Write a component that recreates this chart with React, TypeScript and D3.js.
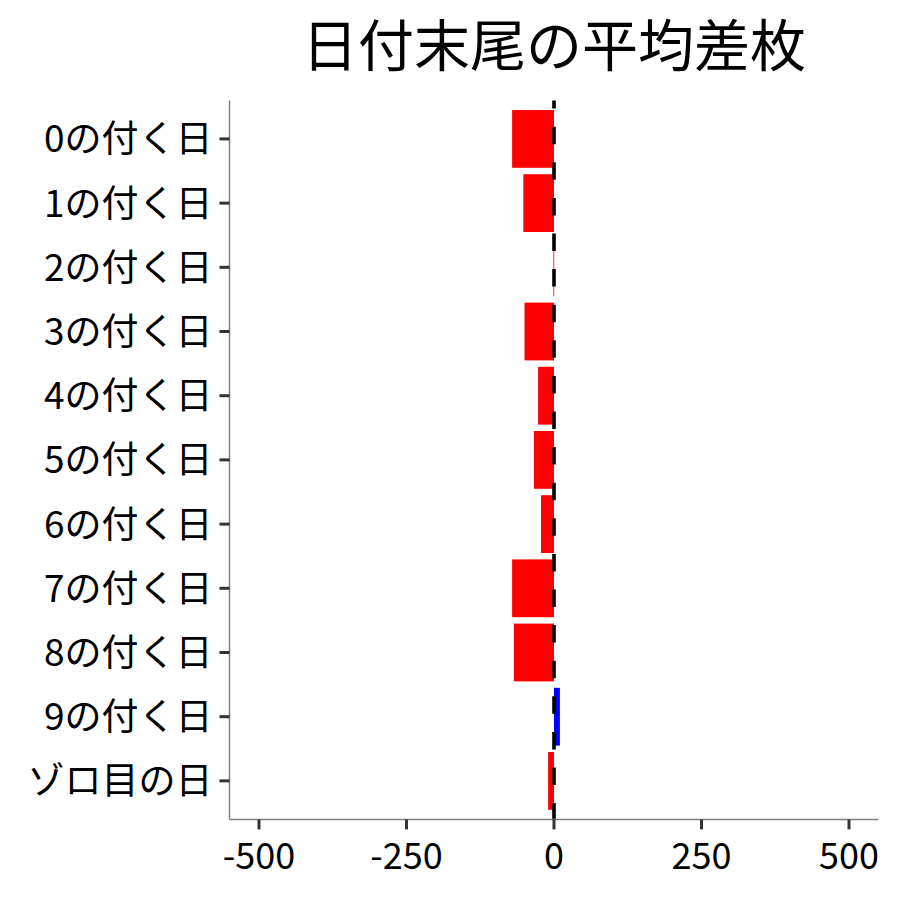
import { useEffect, useRef } from 'react';
import * as d3 from 'd3';

const categories = ['0の付く日', '1の付く日', '2の付く日', '3の付く日', '4の付く日', '5の付く日', '6の付く日', '7の付く日', '8の付く日', '9の付く日', 'ゾロ目の日'];
const diffValues = [-71, -52, -1, -50, -27, -34, -22, -71, -68, 10, -10];
const xTicks = [-500, -250, 0, 250, 500];

const FONT = '"Noto Sans CJK JP", "Noto Sans", sans-serif';

export default function App() {
  const svgRef = useRef<SVGSVGElement>(null);

  useEffect(() => {
    document.body.style.margin = '0';
    const svgEl = svgRef.current;
    if (!svgEl) return;

    const width = 900, height = 900;
    const panel = { left: 229.5, right: 878.5, top: 100.4, bottom: 819.4 };

    const x = d3.scaleLinear().domain([-550, 550]).range([panel.left, panel.right]);
    const y = d3.scaleBand<string>().domain(categories)
      .range([panel.top, panel.bottom]).paddingInner(0.1).paddingOuter(0.15);

    const svg = d3.select(svgEl).attr('viewBox', `0 0 ${width} ${height}`);
    svg.selectAll('*').remove();

    svg.append('rect').attr('width', width).attr('height', height).attr('fill', '#fff');

    // bars
    svg.append('g').selectAll('rect').data(categories).join('rect')
      .attr('x', (_, i) => Math.min(x(0), x(diffValues[i])))
      .attr('width', (_, i) => Math.max(0.8, Math.abs(x(diffValues[i]) - x(0))))
      .attr('y', (d) => y(d)!)
      .attr('height', y.bandwidth())
      .attr('fill', (_, i) => (diffValues[i] >= 0 ? '#0000FF' : '#FF0000'));

    // zero reference line
    svg.append('line')
      .attr('x1', x(0)).attr('x2', x(0))
      .attr('y1', panel.top).attr('y2', panel.bottom)
      .attr('stroke', '#000').attr('stroke-width', 3.6)
      .attr('stroke-dasharray', '17.5,18.1').attr('stroke-dashoffset', 9.3);

    // axis lines
    svg.append('line')
      .attr('x1', panel.left).attr('x2', panel.left)
      .attr('y1', panel.top).attr('y2', panel.bottom)
      .attr('stroke', '#808080').attr('stroke-width', 1.5);
    svg.append('line')
      .attr('x1', panel.left).attr('x2', panel.right)
      .attr('y1', panel.bottom).attr('y2', panel.bottom)
      .attr('stroke', '#808080').attr('stroke-width', 1.5);

    // y ticks + labels
    const yg = svg.append('g');
    categories.forEach((c) => {
      const cy = y(c)! + y.bandwidth() / 2;
      yg.append('line')
        .attr('x1', panel.left - 10).attr('x2', panel.left)
        .attr('y1', cy).attr('y2', cy)
        .attr('stroke', '#333').attr('stroke-width', 3);
      yg.append('text')
        .attr('x', panel.left - 17).attr('y', cy + 13.5)
        .attr('text-anchor', 'end').attr('font-size', 37).attr('font-family', FONT)
        .attr('fill', '#000').text(c);
    });

    // x ticks + labels
    const xg = svg.append('g');
    xTicks.forEach((t) => {
      xg.append('line')
        .attr('x1', x(t)).attr('x2', x(t))
        .attr('y1', panel.bottom).attr('y2', panel.bottom + 10)
        .attr('stroke', '#333').attr('stroke-width', 3);
      xg.append('text')
        .attr('x', x(t)).attr('y', 869)
        .attr('text-anchor', 'middle').attr('font-size', 36).attr('font-family', FONT)
        .attr('fill', '#000').text(String(t));
    });

    // title
    svg.append('text')
      .attr('x', (panel.left + panel.right) / 2).attr('y', 66)
      .attr('text-anchor', 'middle').attr('font-size', 56).attr('font-family', FONT)
      .attr('fill', '#000').text('日付末尾の平均差枚');
  }, []);

  return <svg ref={svgRef} width={900} height={900} style={{ display: 'block' }} />;
}
